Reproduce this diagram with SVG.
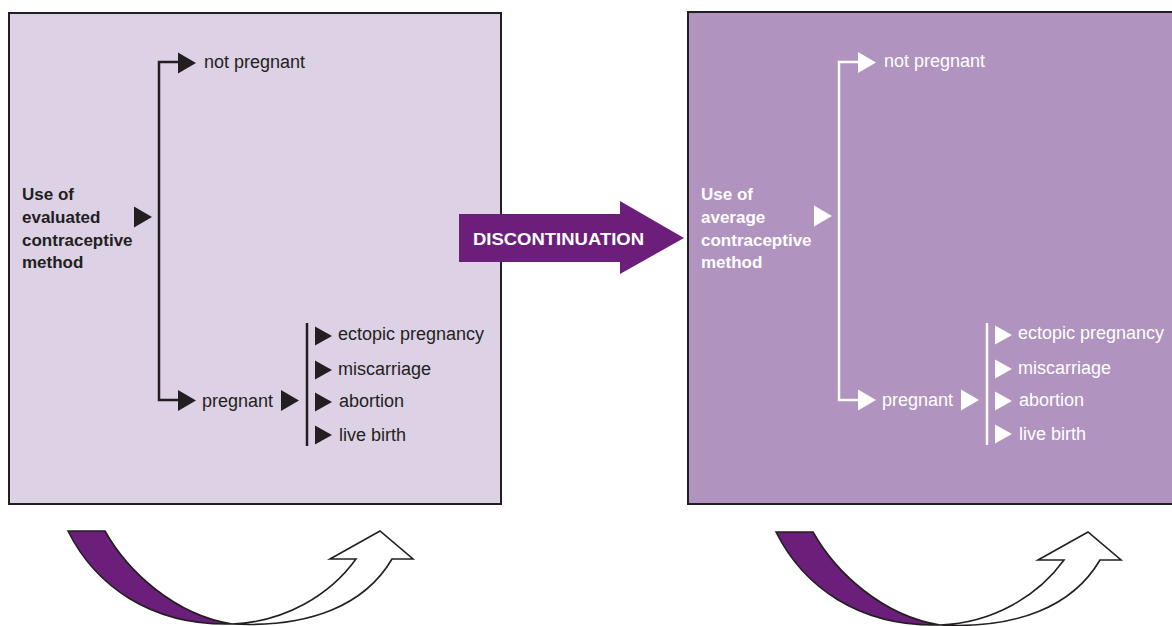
<svg xmlns="http://www.w3.org/2000/svg" width="1172" height="626" viewBox="0 0 1172 626">
<defs>
<style>
.t{font-family:"Liberation Sans",Arial,sans-serif;font-size:18px}
.b{font-family:"Liberation Sans",Arial,sans-serif;font-size:17px;font-weight:bold}
.dk{fill:#231f20}
.wt{fill:#ffffff}
.lnd{stroke:#231f20;stroke-width:2.5;fill:none}
.lnw{stroke:#ffffff;stroke-width:2.5;fill:none}
.cv{stroke:#231f20;stroke-width:1.6;stroke-linejoin:miter}
</style>
<g id="tri"><polygon points="0,-10.5 18,0 0,10.5"/></g>
<g id="tris"><polygon points="0,-9.5 17,0 0,9.5"/></g>
<g id="curve">
<path class="cv" fill="#6b1f7b" d="M68,531 L105,531 C128,572 175,615 232,624 C150,626 95,585 68,531 Z"/>
<path class="cv" fill="#ffffff" d="M232,624 C285,622 330,595 356,559 L330,559 L380,531 L413,559 L392,559 C365,605 310,628 232,624 Z"/>
</g>
</defs>

<g id="box-evaluated">
<rect x="9" y="13" width="492" height="491" fill="#dcd1e5" stroke="#231f20" stroke-width="2"/>
<text class="b dk" x="22" y="200">Use of</text>
<text class="b dk" x="22" y="223">evaluated</text>
<text class="b dk" x="22" y="246">contraceptive</text>
<text class="b dk" x="22" y="268">method</text>
</g>

<g id="box-average">
<rect x="688" y="12" width="500" height="492" fill="#b093bf" stroke="#231f20" stroke-width="2"/>
<text class="b wt" x="701" y="200">Use of</text>
<text class="b wt" x="701" y="223">average</text>
<text class="b wt" x="701" y="246">contraceptive</text>
<text class="b wt" x="701" y="268">method</text>
</g>

<g id="connectors">
<g class="dk">
<path class="lnd" d="M179,62 H159 V400 H179"/>
<use href="#tri" x="178" y="63"/>
<use href="#tri" x="178" y="400.5"/>
<use href="#tri" x="134" y="217"/>
<use href="#tri" x="281" y="400.5"/>
<line class="lnd" x1="307" y1="323" x2="307" y2="446"/>
<use href="#tris" x="315" y="336"/>
<use href="#tris" x="315" y="370"/>
<use href="#tris" x="315" y="402"/>
<use href="#tris" x="315" y="435"/>
</g>
<g class="wt">
<path class="lnw" d="M859,62 H839 V400 H859"/>
<use href="#tri" x="858" y="62.5"/>
<use href="#tri" x="858" y="400"/>
<use href="#tri" x="814" y="216"/>
<use href="#tri" x="961" y="400"/>
<line class="lnw" x1="987" y1="323" x2="987" y2="445"/>
<use href="#tris" x="995" y="335"/>
<use href="#tris" x="995" y="369"/>
<use href="#tris" x="995" y="401"/>
<use href="#tris" x="995" y="434"/>
</g>
</g>

<g id="outcomes-evaluated">
<text class="t dk" x="204" y="68">not pregnant</text>
<text class="t dk" x="202" y="407">pregnant</text>
<text class="t dk" x="338" y="340">ectopic pregnancy</text>
<text class="t dk" x="338" y="375">miscarriage</text>
<text class="t dk" x="339" y="407">abortion</text>
<text class="t dk" x="339" y="441">live birth</text>
</g>

<g id="outcomes-average">
<text class="t wt" x="884" y="67">not pregnant</text>
<text class="t wt" x="882" y="406">pregnant</text>
<text class="t wt" x="1018" y="339">ectopic pregnancy</text>
<text class="t wt" x="1018" y="374">miscarriage</text>
<text class="t wt" x="1019" y="406">abortion</text>
<text class="t wt" x="1019" y="440">live birth</text>
</g>

<g id="discontinuation">
<polygon points="459,214 620,214 620,201 684,238 620,274 620,262 459,262" fill="#6b1f7b"/>
<text x="473" y="245" fill="#ffffff" font-family="Liberation Sans, Arial, sans-serif" font-size="17" font-weight="bold" textLength="171" lengthAdjust="spacingAndGlyphs">DISCONTINUATION</text>
</g>

<g id="cycle-left">
<use href="#curve"/>
</g>
<g id="cycle-right">
<use href="#curve" x="708" y="1"/>
</g>
</svg>
